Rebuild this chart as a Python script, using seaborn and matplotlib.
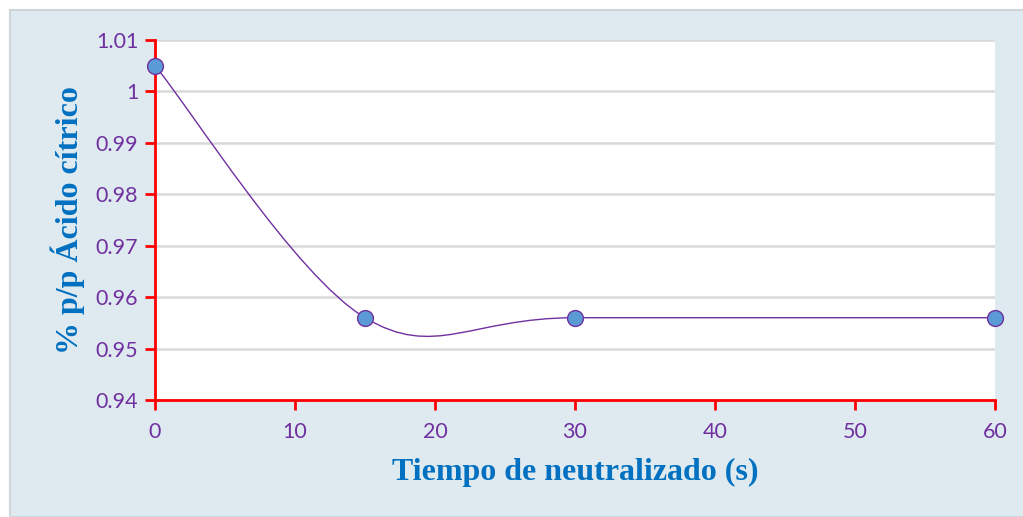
import matplotlib
matplotlib.use("Agg")
import matplotlib.pyplot as plt
import numpy as np
import pandas as pd
import seaborn as sns
from matplotlib.path import Path
from matplotlib.patches import PathPatch, Rectangle

tiempo = [0, 15, 30, 60]
acido = [1.005, 0.956, 0.956, 0.956]
x_ticks = [0, 10, 20, 30, 40, 50, 60]
y_ticks = [0.94, 0.95, 0.96, 0.97, 0.98, 0.99, 1.0, 1.01]
y_ticklabels = ['0.94', '0.95', '0.96', '0.97', '0.98', '0.99', '1', '1.01']

PURPLE = '#7030a0'
BLUE = '#0070c0'
RED = '#ff0000'


def smooth_path(xs, ys):
    # excel-like smoothed line: catmull-rom turned into cubic bezier segments
    pts = np.column_stack([xs, ys]).astype(float)
    n = len(pts)
    verts = [pts[0]]
    codes = [Path.MOVETO]
    for i in range(n - 1):
        p0 = pts[max(i - 1, 0)]
        p1 = pts[i]
        p2 = pts[i + 1]
        p3 = pts[min(i + 2, n - 1)]
        c1 = p1 + (p2 - p0) / 6.0
        c2 = p2 - (p3 - p1) / 6.0
        verts += [c1, c2, p2]
        codes += [Path.CURVE4] * 3
    return Path(verts, codes)


sns.set_theme(style='white')
plt.rcParams['font.family'] = ['Lato', 'DejaVu Sans']

df = pd.DataFrame({'tiempo': tiempo, 'acido': acido})

fig = plt.figure(figsize=(10.23, 5.17), dpi=100)
fig.patch.set_facecolor('white')
fig.patches.append(Rectangle((10 / 1023, 0), 1.0, 1 - 10 / 517, transform=fig.transFigure,
                             facecolor='#deeaef', edgecolor='#cfd6da', linewidth=1.5, zorder=-5))

ax = fig.add_axes([155 / 1023, 1 - 400 / 517, 840 / 1023, 360 / 517])
ax.set_zorder(2)
ax.set_facecolor('white')

ax.add_patch(PathPatch(smooth_path(tiempo, acido), facecolor='none', edgecolor=PURPLE,
                       linewidth=1.0, zorder=3))
sns.scatterplot(data=df, x='tiempo', y='acido', ax=ax, s=130, color='#5b9bd5',
                edgecolor=PURPLE, linewidth=1.0, zorder=4, clip_on=False)

ax.set_xlim(0, 60)
ax.set_ylim(0.94, 1.01)
ax.set_xticks(x_ticks)
ax.set_yticks(y_ticks)
ax.set_yticklabels(y_ticklabels)
ax.yaxis.grid(True, color='#d9d9d9', linewidth=1.8)
ax.set_axisbelow(True)

for side in ['top', 'right']:
    ax.spines[side].set_visible(False)
for side in ['left', 'bottom']:
    ax.spines[side].set_color(RED)
    ax.spines[side].set_linewidth(2)

ax.tick_params(axis='both', which='major', bottom=True, left=True, direction='out',
               length=7, width=2, color=RED, labelcolor=PURPLE, labelsize=15.5)
ax.tick_params(axis='x', pad=9)
ax.tick_params(axis='y', pad=5)

ax.set_xlabel('Tiempo de neutralizado (s)', family=['Liberation Serif', 'DejaVu Serif'],
              fontweight='bold', fontsize=23, color=BLUE, labelpad=11)
ax.set_ylabel('% p/p Ácido cítrico', family=['Liberation Serif', 'DejaVu Serif'],
              fontweight='bold', fontsize=23, color=BLUE, labelpad=8)

fig.savefig('out.png', dpi=100)
